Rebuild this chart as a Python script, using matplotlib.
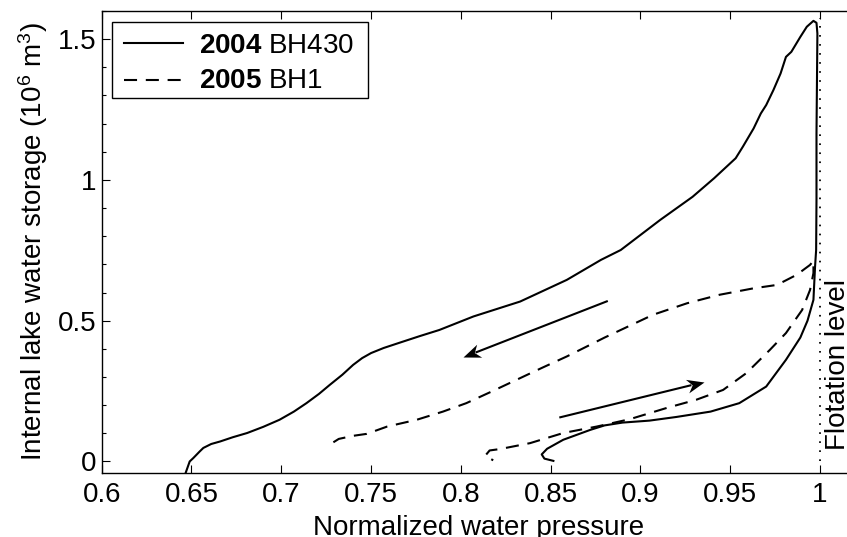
import numpy as np
import matplotlib
matplotlib.use("Agg")
import matplotlib.pyplot as plt
from matplotlib.ticker import MultipleLocator, FixedLocator
from matplotlib.patches import Rectangle
from matplotlib.lines import Line2D
from matplotlib.markers import MarkerStyle
from matplotlib.path import Path
from matplotlib.transforms import Affine2D

plt.rcParams['font.family'] = ['Liberation Sans', 'DejaVu Sans']
plt.rcParams['mathtext.fontset'] = 'custom'
plt.rcParams['mathtext.rm'] = 'Liberation Sans'
plt.rcParams['mathtext.bf'] = 'Liberation Sans:bold'
plt.rcParams['mathtext.it'] = 'Liberation Sans:italic'
plt.rcParams['mathtext.default'] = 'regular'
plt.rcParams['lines.scale_dashes'] = False

# 2004 drainage/filling loop at BH430
p2004 = [0.6465, 0.649, 0.651, 0.6545, 0.6566, 0.661, 0.666, 0.673, 0.681, 0.690,
         0.699, 0.707, 0.714, 0.721, 0.727, 0.734, 0.740, 0.745, 0.750, 0.757,
         0.766, 0.777, 0.788, 0.807, 0.833, 0.859, 0.878, 0.889, 0.911, 0.929,
         0.941, 0.953, 0.957, 0.963, 0.967, 0.970, 0.974, 0.978, 0.981, 0.984,
         0.989, 0.9926, 0.9963, 0.998, 0.9985, 0.998, 0.998, 0.9978, 0.9972, 0.9963,
         0.993, 0.989, 0.981, 0.970, 0.955, 0.939, 0.928, 0.92, 0.905, 0.89,
         0.88, 0.872, 0.857, 0.848, 0.845, 0.8465, 0.8515]
v2004 = [-0.045, 0.0, 0.012, 0.035, 0.048, 0.062, 0.071, 0.086, 0.101, 0.123,
         0.148, 0.177, 0.207, 0.240, 0.272, 0.308, 0.343, 0.367, 0.385, 0.403,
         0.422, 0.445, 0.467, 0.515, 0.568, 0.645, 0.716, 0.751, 0.858, 0.940,
         1.006, 1.077, 1.118, 1.183, 1.236, 1.266, 1.319, 1.378, 1.437, 1.455,
         1.508, 1.544, 1.565, 1.558, 1.520, 1.165, 0.929, 0.751, 0.692, 0.574,
         0.500, 0.440, 0.361, 0.266, 0.207, 0.177, 0.166, 0.158, 0.145, 0.138,
         0.128, 0.112, 0.077, 0.045, 0.025, 0.010, 0.002]

# 2005 loop at BH1
p2005 = [0.729, 0.732, 0.740, 0.7476, 0.759, 0.7754, 0.790, 0.803, 0.817, 0.831,
         0.845, 0.859, 0.870, 0.880, 0.894, 0.907, 0.926, 0.944, 0.963, 0.976,
         0.987, 0.9944, 0.9963, 0.9963, 0.9944, 0.990, 0.981, 0.972, 0.959, 0.946,
         0.931, 0.9146, 0.894, 0.8757, 0.857, 0.8385, 0.8218, 0.816, 0.8135, 0.818]
v2005 = [0.068, 0.080, 0.091, 0.098, 0.124, 0.148, 0.177, 0.207, 0.248, 0.290,
         0.332, 0.373, 0.408, 0.440, 0.482, 0.521, 0.562, 0.592, 0.615, 0.627,
         0.663, 0.698, 0.713, 0.669, 0.609, 0.538, 0.456, 0.396, 0.314, 0.254,
         0.219, 0.190, 0.150, 0.124, 0.101, 0.065, 0.044, 0.039, 0.020, 0.004]

# direction arrows: (start, end) in data units
arrow_down = ((0.8818, 0.570), (0.8014, 0.370))
arrow_up = ((0.8548, 0.156), (0.9354, 0.282))

flotation = 1.0
xticks = [0.6, 0.65, 0.7, 0.75, 0.8, 0.85, 0.9, 0.95, 1.0]
xticklabels = ['0.6', '0.65', '0.7', '0.75', '0.8', '0.85', '0.9', '0.95', '1']
yticks = [0, 0.5, 1.0, 1.5]
yticklabels = ['0', '0.5', '1', '1.5']
legend_labels = [r'$\bf{2004}$ BH430', r'$\bf{2005}$ BH1']

FS = 20
LW = 1.5
DASH = (9.4, 6.3)
W, H = 847, 537

fig = plt.figure(figsize=(W / 100, H / 100), dpi=100)
ax = fig.add_axes([0.12007, 0.11974, 0.89056, 0.85978])
ax.set_xlim(0.6, 1.02)
ax.set_ylim(-0.04, 1.6)

ax.plot(p2004, v2004, color='k', lw=LW, solid_joinstyle='round')
ax.plot(p2005, v2005, color='k', lw=LW, dashes=DASH)
ax.plot([flotation, flotation], [0, 1.575], color='k', lw=1.3,
        dashes=(1.2, 5.3), dash_capstyle='butt')

# arrows with a notched (swept-back) head
head = Path([(0, 0), (-1, 0.4), (-0.7, 0), (-1, -0.4), (0, 0)],
            [Path.MOVETO, Path.LINETO, Path.LINETO, Path.LINETO, Path.CLOSEPOLY])
head_size = 25  # marker size in points; head length is half of this
for (x0, y0), (x1, y1) in (arrow_down, arrow_up):
    d0 = ax.transData.transform((x0, y0))
    d1 = ax.transData.transform((x1, y1))
    vec = d1 - d0
    ang = np.degrees(np.arctan2(vec[1], vec[0]))
    unit = vec / np.hypot(*vec)
    back = head_size * 0.5 * 0.75 * fig.dpi / 72.0
    shaft_end = ax.transData.inverted().transform(d1 - unit * back)
    ax.plot([x0, shaft_end[0]], [y0, shaft_end[1]], color='k', lw=LW,
            solid_capstyle='butt')
    ax.plot([x1], [y1], linestyle='none', color='k', markersize=head_size,
            marker=MarkerStyle(head, transform=Affine2D().rotate_deg(ang)),
            markeredgewidth=0)

ax.text(flotation + 0.003, 0.343, 'Flotation level', rotation=90, ha='left',
        va='center', fontsize=FS)

ax.xaxis.set_major_locator(FixedLocator(xticks))
ax.set_xticklabels(xticklabels)
ax.yaxis.set_major_locator(FixedLocator(yticks))
ax.set_yticklabels(yticklabels)
ax.yaxis.set_minor_locator(MultipleLocator(0.1))
ax.tick_params(which='both', direction='in', top=True, right=False,
               labelsize=FS, width=0.8)
ax.tick_params(axis='x', which='major', length=6, pad=7)
ax.tick_params(axis='y', which='major', length=6, pad=3.6)
ax.tick_params(axis='y', which='minor', length=3)
ax.spines['right'].set_visible(False)
for s in ax.spines.values():
    s.set_linewidth(1.0)

ax.set_xlabel('Normalized water pressure', fontsize=FS, labelpad=5)
ax.set_ylabel('Internal lake water storage (10$^6$ m$^3$)', fontsize=FS,
              labelpad=6)

# legend box, laid out in figure pixels
def fx(px):
    return px / W

def fy(py):
    return 1 - py / H

fig.add_artist(Rectangle((fx(111.7), fy(97.7)), fx(368) - fx(111.7),
                         fy(21.7) - fy(97.7), transform=fig.transFigure,
                         facecolor='white', edgecolor='k', lw=1.0, zorder=5))
rows = [(43.3, 53.3, None), (80.0, 88.3, DASH)]
for (line_y, base_y, dash), label in zip(rows, legend_labels):
    ln = Line2D([fx(124), fx(183)], [fy(line_y), fy(line_y)], color='k', lw=LW,
                transform=fig.transFigure, zorder=6)
    if dash is not None:
        ln.set_dashes(dash)
    fig.add_artist(ln)
    fig.text(fx(199), fy(base_y), label, fontsize=FS, ha='left',
             va='baseline', zorder=6)

fig.savefig('out.png', dpi=100)
